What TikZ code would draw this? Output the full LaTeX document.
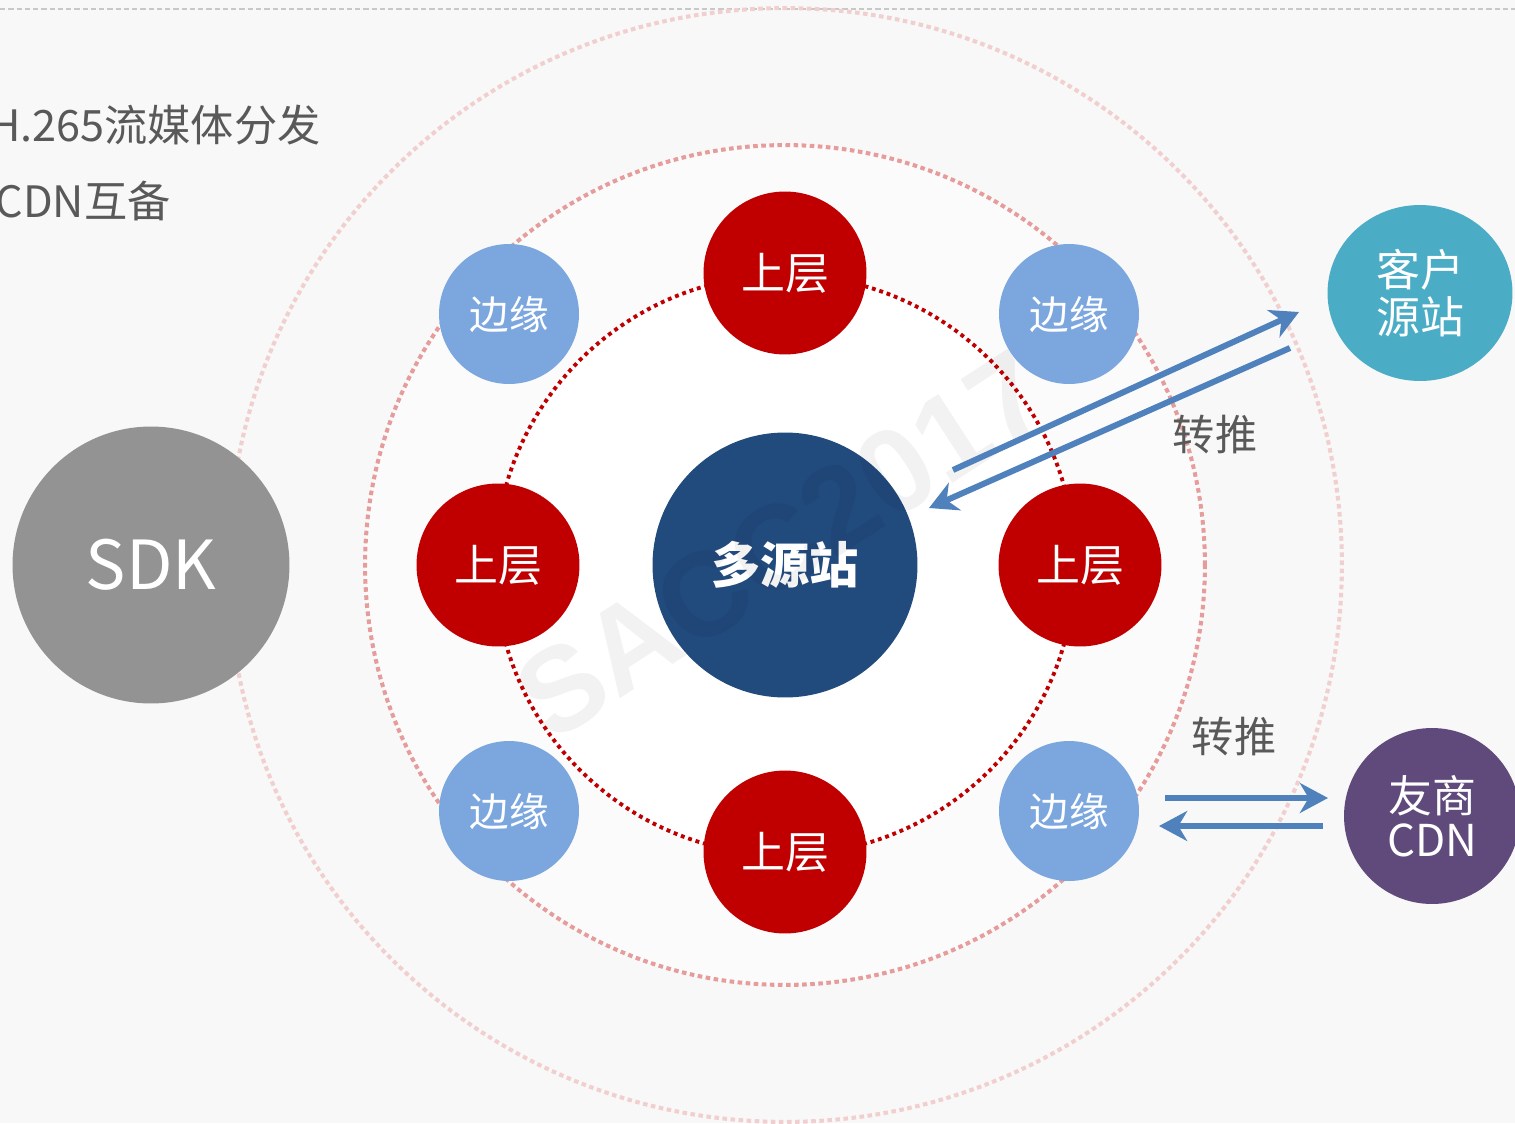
\documentclass[tikz,border=0pt]{standalone}
\usepackage{fontspec}
\setmainfont{Noto Sans CJK SC}
\newfontfamily\wmfont{Liberation Sans}
\usetikzlibrary{arrows.meta,shapes.geometric}
\definecolor{bgc}{HTML}{F8F8F8}
\definecolor{midfill}{HTML}{FBFBFB}
\definecolor{ringouter}{HTML}{F2CFCF}
\definecolor{ringmid}{HTML}{E79C9C}
\definecolor{ringinner}{HTML}{C00000}
\definecolor{upred}{HTML}{C00000}
\definecolor{edgeblue}{HTML}{7BA7DE}
\definecolor{centerblue}{HTML}{214A7D}
\definecolor{sdkgray}{HTML}{939393}
\definecolor{custteal}{HTML}{4BACC6}
\definecolor{partnerpurple}{HTML}{604A7B}
\definecolor{arrowblue}{HTML}{4F81BD}
\definecolor{txtgray}{HTML}{595959}
\definecolor{topline}{HTML}{C8C8C8}
\tikzset{
  upperbox/.style={circle, fill=upred, minimum size=3.26cm, inner sep=0pt, text=white, font=\fontsize{25pt}{28pt}\selectfont},
  edgebox/.style={circle, fill=edgeblue, minimum size=2.8cm, inner sep=0pt, text=white, font=\fontsize{22.5pt}{26pt}\selectfont},
  centerbox/.style={circle, fill=centerblue, minimum size=5.3cm, inner sep=0pt, text=white, font=\fontsize{28pt}{32pt}\selectfont\bfseries},
  sdkbox/.style={circle, fill=sdkgray, minimum size=5.54cm, inner sep=0pt, text=white, font=\fontsize{38.5pt}{42pt}\selectfont},
  custbox/.style={ellipse, fill=custteal, minimum width=3.7cm, minimum height=3.52cm, inner sep=0pt, text=white, align=center, font=\fontsize{25pt}{26.6pt}\selectfont},
  partnerbox/.style={circle, fill=partnerpurple, minimum size=3.52cm, inner sep=0pt, text=white, align=center, font=\fontsize{25pt}{25pt}\selectfont},
  pushlabel/.style={inner sep=0pt, text=txtgray, font=\fontsize{24pt}{26pt}\selectfont},
  lefttext/.style={inner sep=0pt, anchor=east, text=txtgray, font=\fontsize{24.6pt}{26pt}\selectfont},
  pusharrow/.style={draw=arrowblue, line width=3.4pt, -{Stealth[length=16pt,width=17pt,inset=5pt]}},
  ringdots/.style={line width=2.3pt, dash pattern=on 2.6pt off 2pt}
}
\begin{document}
\begin{tikzpicture}[x=0.02cm,y=-0.02cm]
\fill[bgc] (0,0) rectangle (1515,1123);
\useasboundingbox (0,0) rectangle (1515,1123);
\clip (0,0) rectangle (1515,1123);
% top dashed line
\draw[topline, line width=1.1pt, dash pattern=on 3pt off 1.7pt] (0,9) -- (1515,9);
% rings
\coordinate (ctr) at (785,565);
\draw[ringouter, ringdots] (ctr) circle[radius=11.14cm];
\fill[midfill] (ctr) circle[radius=8.4cm];
\draw[ringmid, ringdots] (ctr) circle[radius=8.4cm];
\fill[white] (ctr) circle[radius=5.8cm];
\draw[ringinner, line width=2.2pt, dash pattern=on 2.2pt off 2.2pt] (ctr) circle[radius=5.8cm];
% left texts
\node[lefttext] (t1) at (321,125) {H.265流媒体分发};
\node[lefttext] (t2) at (171,201) {CDN互备};
% nodes
\node[centerbox] (src) at (785,565) {多源站};
\node[upperbox] (utop) at (785,273) {上层};
\node[upperbox] (uleft) at (498,565) {上层};
\node[upperbox] (uright) at (1080,565) {上层};
\node[upperbox] (ubottom) at (785,852) {上层};
\node[edgebox] (etl) at (509,314) {边缘};
\node[edgebox] (etr) at (1069,314) {边缘};
\node[edgebox] (ebl) at (509,811) {边缘};
\node[edgebox] (ebr) at (1069,811) {边缘};
\node[sdkbox] (sdk) at (151,565) {SDK};
\node[custbox] (cust) at (1420,293) {客户\\源站};
\node[partnerbox] (partner) at (1432,816) {友商\\CDN};
% watermark (faint, over the drawing)
\node[rotate=33, opacity=0.05, text=black, inner sep=0pt, font=\wmfont\bfseries\fontsize{68pt}{70pt}\selectfont] (wm) at (782,545) {SACC2017};
% arrows
\coordinate (a1s) at (953,470);
\coordinate (a1e) at (1299,312);
\coordinate (a2s) at (1290,348);
\coordinate (a2e) at (929,508);
\coordinate (a3s) at (1165,798);
\coordinate (a3e) at (1328,798);
\coordinate (a4s) at (1323,826);
\coordinate (a4e) at (1159,826);
\draw[pusharrow] (a1s) -- (a1e);
\draw[pusharrow] (a2s) -- (a2e);
\draw[pusharrow] (a3s) -- (a3e);
\draw[pusharrow] (a4s) -- (a4e);
\node[pushlabel] (p1) at (1215,434) {转推};
\node[pushlabel] (p2) at (1234,736) {转推};
\end{tikzpicture}
\end{document}
